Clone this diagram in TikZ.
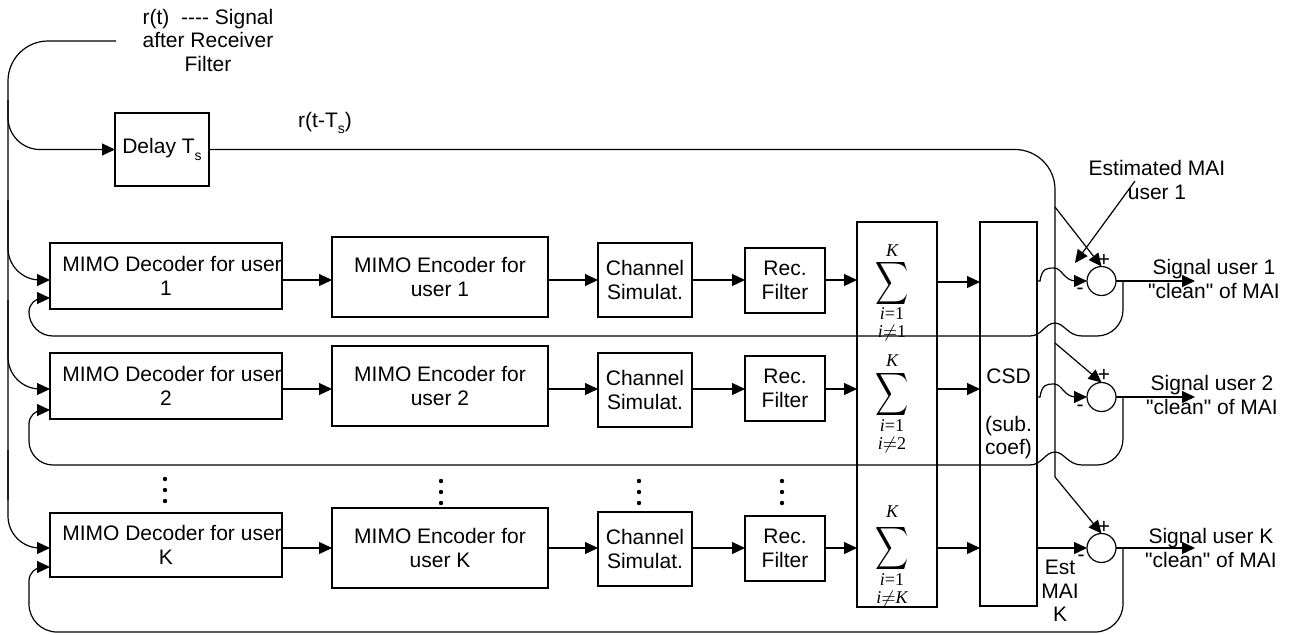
\documentclass[tikz,border=0pt]{standalone}
\usepackage{fontspec}
\setmainfont{Liberation Sans}
\newfontfamily\plainfont{Liberation Sans}
\newfontfamily\seriffont{Liberation Serif}
\usetikzlibrary{arrows.meta,calc}
\begin{document}
\begin{tikzpicture}[x=0.5pt,y=-0.5pt,line width=0.6pt,
  every node/.style={font=\plainfont\fontsize{10.5}{11.75}\selectfont, inner sep=0pt, outer sep=0pt},
  blk/.style={draw, align=center},
  arr/.style={-{Triangle[length=6.5pt,width=6pt]}},
  sumc/.style={draw, circle, minimum size=14.5pt},
  lim/.style={font=\seriffont\fontsize{9}{9}\selectfont},
  bigsum/.style={font=\fontsize{10}{10}\selectfont},
  lbl/.style={align=center}]
\useasboundingbox (0,0) rectangle (1291,634);

% ---- blocks
\node[blk, minimum width=47pt, minimum height=36.5pt] (delay) at (162,149.5) {Delay T\raisebox{-0.6ex}{\fontsize{7}{7}\selectfont s}};

\node[blk, minimum width=116pt, minimum height=33pt] (dec1) at (166,276) {\hspace*{6pt}MIMO Decoder for user\\1};
\node[blk, minimum width=116pt, minimum height=33pt] (dec2) at (166,386) {\hspace*{6pt}MIMO Decoder for user\\2};
\node[blk, minimum width=116pt, minimum height=32pt] (decK) at (166,545) {\hspace*{6pt}MIMO Decoder for user\\K};

\node[blk, minimum width=108pt, minimum height=40pt] (enc1) at (440,277) {MIMO Encoder for\\user 1};
\node[blk, minimum width=108pt, minimum height=40pt] (enc2) at (440,386) {MIMO Encoder for\\user 2};
\node[blk, minimum width=108pt, minimum height=40pt] (encK) at (440,548) {MIMO Encoder for\\user K};

\node[blk, minimum width=47pt, minimum height=37pt] (ch1) at (645,280) {Channel\\Simulat.};
\node[blk, minimum width=47pt, minimum height=37pt] (ch2) at (645,390) {Channel\\Simulat.};
\node[blk, minimum width=47pt, minimum height=37pt] (chK) at (645,549) {Channel\\Simulat.};

\node[blk, minimum width=40pt, minimum height=32.5pt] (rec1) at (785,280.5) {Rec.\\Filter};
\node[blk, minimum width=40pt, minimum height=32.5pt] (rec2) at (785,388.5) {Rec.\\Filter};
\node[blk, minimum width=40pt, minimum height=32.5pt] (recK) at (785,548.5) {Rec.\\Filter};

\node[blk, minimum width=40pt, minimum height=192.5pt] (sig) at (897,414.5) {};
\node[blk, minimum width=28.5pt, minimum height=192pt] (csd) at (1008.5,414) {CSD\\[12pt](sub.\\coef)};

\node[sumc] (sum1) at (1101.5,281) {};
\node[sumc] (sum2) at (1101.5,397) {};
\node[sumc] (sumK) at (1101.5,548) {};

% ---- sigma symbols
\node[lim] (k1) at (892,251) {\itshape K};
\node[bigsum] (s1) at (892,283) {\scalebox{1.15}[1.5]{$\displaystyle\sum$}};
\node[lim] (a1) at (892,314) {\itshape i\upshape =1};
\node[lim] (b1) at (892,333) {\itshape i\upshape $\neq$1};
\node[lim] (k2) at (892,361) {\itshape K};
\node[bigsum] (s2) at (892,394) {\scalebox{1.15}[1.5]{$\displaystyle\sum$}};
\node[lim] (a2) at (892,426) {\itshape i\upshape =1};
\node[lim] (b2) at (892,445) {\itshape i\upshape $\neq$2};
\node[lim] (k3) at (892,512) {\itshape K};
\node[bigsum] (s3) at (892,548) {\scalebox{1.15}[1.5]{$\displaystyle\sum$}};
\node[lim] (a3) at (892,580) {\itshape i\upshape =1};
\node[lim] (b3) at (892,599) {\itshape i$\neq$K};

% ---- labels
\node[lbl] (top) at (208,40) {r(t)\ \ ---- Signal\\after Receiver\\Filter};
\node (rts) at (325,123) {r(t-T\raisebox{-0.6ex}{\fontsize{7}{7}\selectfont s})};
\node[lbl] (est) at (1157,180) {Estimated MAI\\user 1};
\node[lbl] (estk) at (1060,591) {Est\\MAI\\K};
\node[lbl] (out1l) at (1214,279) {Signal user 1\\"clean" of MAI};
\node[lbl] (out2l) at (1212,395) {Signal user 2\\"clean" of MAI};
\node[lbl] (outKl) at (1211,548) {Signal user K\\"clean" of MAI};
\node (p1) at (1104,260) {+};
\node (m1) at (1080,291) {-};
\node (p2) at (1104,375) {+};
\node (m2) at (1080,408) {-};
\node (pK) at (1104,527) {+};
\node (mK) at (1081,558) {-};

% ---- dots
\foreach \x/\y in {165/479,441/481,639/481,782/481}{
  \fill (\x,\y) circle[radius=1.1pt];
  \fill (\x,\y+11) circle[radius=1.1pt];
  \fill (\x,\y+22) circle[radius=1.1pt];
}

% ---- coordinates
\coordinate (rin) at (116,41);
\coordinate (y1) at (0,280);
\coordinate (y2) at (0,389);
\coordinate (yK) at (0,548);
\coordinate (z1) at (0,282);
\coordinate (t1) at (1055,207);
\coordinate (t2) at (1055,343);
\coordinate (tK) at (1055,477);
\coordinate (o1) at (1195,281);
\coordinate (o2) at (1195,397);
\coordinate (oK) at (1195,548);
\coordinate (f1) at (1123,281);
\coordinate (f2) at (1123,397);
\coordinate (fK) at (1123,548);
\coordinate (estfrom) at (1135,181);
\coordinate (estto) at (1075,263);

% ---- input trunk
\draw[rounded corners=20] (rin) -| (8,500);
\draw[arr, rounded corners=16] (8,100) |- (delay.west);
\draw[arr, rounded corners=16] (8,200) |- ($(dec1.west)+(0,4)$);
\draw[arr, rounded corners=16] (8,300) |- ($(dec2.west)+(0,3)$);
\draw[arr, rounded corners=16] (8,450) |- ($(decK.west)+(0,3)$);

% ---- delayed signal
\draw[rounded corners=20] (delay.east) -| (tK);
\draw[arr] (t1) -- (sum1.north);
\draw[arr] (t2) -- (sum2.north);
\draw[arr] (tK) -- (sumK.north);

% ---- chains
\foreach \r in {1,2,K}{
  \draw[arr] (dec\r.east |- y\r) -- (enc\r.west |- y\r);
  \draw[arr] (enc\r.east |- y\r) -- (ch\r.west |- y\r);
  \draw[arr] (ch\r.east |- y\r) -- (rec\r.west |- y\r);
  \draw[arr] (rec\r.east |- y\r) -- (sig.west |- y\r);
}
\draw[arr] (sig.east |- z1) -- (csd.west |- z1);
\draw[arr] (sig.east |- y2) -- (csd.west |- y2);
\draw[arr] (sig.east |- yK) -- (csd.west |- yK);

% ---- CSD to summers (with hops)
\draw[arr] (csd.east |- sum1) -- (1040,281) .. controls (1042,268) and (1047,268) .. (1054,268) .. controls (1062,268) and (1064,281) .. (1076,281) -- (sum1.west);
\draw[arr] (csd.east |- sum2) -- (1040,397) .. controls (1042,384) and (1047,384) .. (1054,384) .. controls (1062,384) and (1064,397) .. (1076,397) -- (sum2.west);
\draw[arr] (csd.east |- sumK) -- (sumK.west);

% ---- estimated MAI pointer
\draw[arr] (estfrom) -- (estto);

% ---- outputs
\draw[arr] (sum1.east) -- (o1);
\draw[arr] (sum2.east) -- (o2);
\draw[arr] (sumK.east) -- (oK);

% ---- feedback loops
\draw[rounded corners=13] (f1) -- (1123,336) -- (1082,336);
\draw (1082,336) .. controls (1068,336) and (1064,323) .. (1055,323) .. controls (1045,323) and (1042,336) .. (1030,336);
\draw[arr, rounded corners=12] (1030,336) -- (29,336) [rounded corners=7] -- (29,298) -- ($(dec1.west)+(0,22)$);

\draw[rounded corners=13] (f2) -- (1123,465) -- (1082,465);
\draw (1082,465) .. controls (1068,465) and (1064,452) .. (1055,452) .. controls (1045,452) and (1042,465) .. (1030,465);
\draw[arr, rounded corners=12] (1030,465) -- (29,465) [rounded corners=7] -- (29,410) -- ($(dec2.west)+(0,24)$);

\draw[arr, rounded corners=14] (fK) -- (1123,632) -- (29,632) [rounded corners=7] -- (29,567) -- ($(decK.west)+(0,22)$);
\end{tikzpicture}
\end{document}
